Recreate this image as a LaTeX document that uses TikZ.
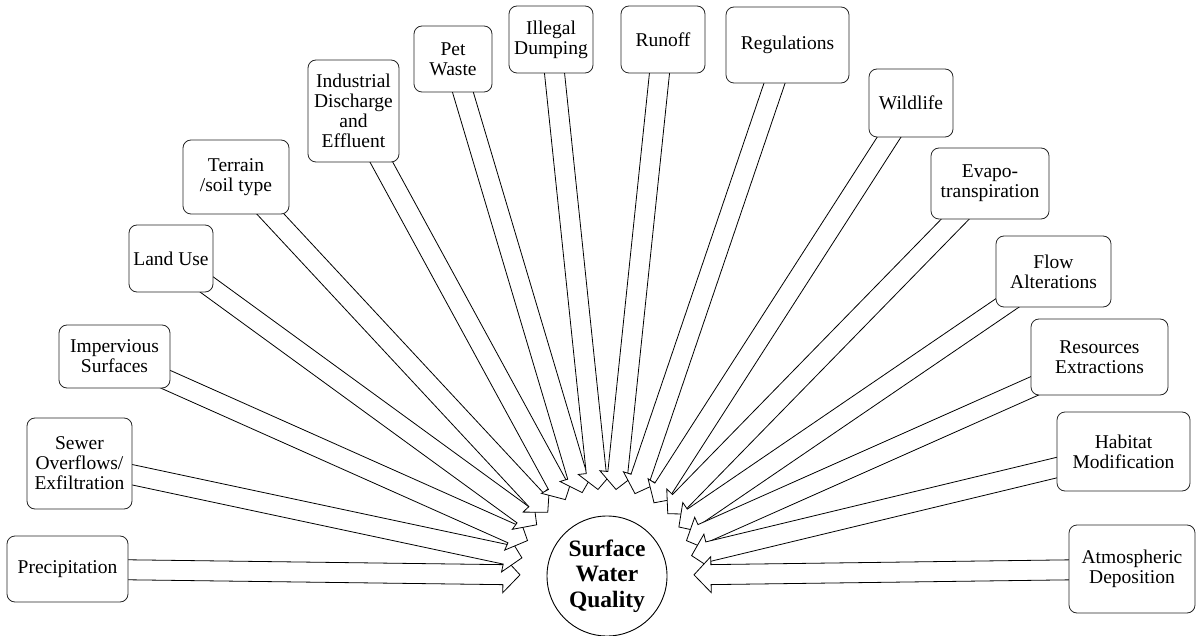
\documentclass[tikz,border=0pt]{standalone}
\usepackage{fontspec}
\setmainfont{Liberation Serif}
\usetikzlibrary{calc,backgrounds}
\begin{document}
\begin{tikzpicture}[x=1pt,y=-1pt,
  box/.style={draw=black!85, line width=0.8pt, rounded corners=8pt, fill=white,
    align=center, inner sep=0pt, font=\fontsize{19.5}{20}\selectfont},
  hub/.style={circle, draw=black, line width=0.9pt, fill=white, minimum size=120pt,
    inner sep=0pt, align=center, font=\bfseries\fontsize{23.5}{25.5}\selectfont},
  arr/.style={draw=black, line width=0.8pt, fill=white, line join=miter}]
\useasboundingbox (0,0) rectangle (1197,636);

\newcommand\bx[6]{\node[box, minimum width=#4pt, minimum height=#5pt] (#1) at (#2,#3) {#6};}
\newcommand\blockarr[1]{%
  \coordinate (T) at ($(c.center)!87pt!(#1.center)$);
  \coordinate (H) at ($(c.center)!104pt!(#1.center)$);
  \draw[arr] ($(#1.center)!10pt!-90:(c.center)$) -- ($(H)!10pt!90:(#1.center)$)
    -- ($(H)!18pt!90:(#1.center)$) -- (T) -- ($(H)!18pt!-90:(#1.center)$)
    -- ($(H)!10pt!-90:(#1.center)$) -- ($(#1.center)!10pt!90:(c.center)$) -- cycle;}

\node[hub] (c) at (607,576) {Surface\\Water\\Quality};

\bx{prec}{67.5}{569}{121}{66}{Precipitation}
\bx{sewer}{79.5}{463.5}{105}{91}{Sewer\\Overflows/\\Exfiltration}
\bx{imp}{114.5}{356.5}{111}{63}{Impervious\\Surfaces}
\bx{land}{171}{258.5}{84}{67}{Land Use}
\bx{terr}{236}{177}{106}{74}{Terrain\\/soil type}
\bx{ind}{353.5}{111}{91}{102}{Industrial\\Discharge\\and\\Effluent}
\bx{pet}{453}{59}{78}{66}{Pet\\Waste}
\bx{ill}{551}{39.5}{84}{67}{Illegal\\Dumping}
\bx{run}{663}{39.5}{84}{67}{Runoff}
\bx{reg}{787.5}{45}{123}{76}{Regulations}
\bx{wild}{911}{103}{84}{68}{Wildlife}
\bx{evap}{990}{183.5}{118}{71}{Evapo-\\transpiration}
\bx{flow}{1053.5}{271.5}{115}{71}{Flow\\Alterations}
\bx{res}{1099.5}{357}{137}{76}{Resources\\Extractions}
\bx{hab}{1123.5}{451.5}{133}{79}{Habitat\\Modification}
\bx{atm}{1132}{569}{126}{88}{Atmospheric\\Deposition}

\begin{pgfonlayer}{background}
\foreach \b in {prec,sewer,imp,land,terr,ind,pet,ill,run,reg,wild,evap,flow,res,hab,atm}
  {\blockarr{\b}}
\end{pgfonlayer}
\end{tikzpicture}
\end{document}
